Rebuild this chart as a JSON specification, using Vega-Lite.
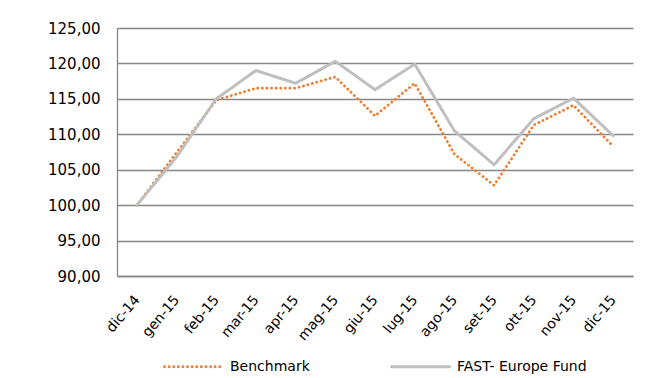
{
  "$schema": "https://vega.github.io/schema/vega-lite/v6.json",
  "width": 516,
  "height": 248,
  "autosize": {"type": "none"},
  "padding": {"left": 117, "top": 28, "right": 15, "bottom": 102},
  "background": "white",
  "data": {
    "values": [
      {"month": "dic-14", "series": "Benchmark", "value": 100.0},
      {"month": "gen-15", "series": "Benchmark", "value": 107.4},
      {"month": "feb-15", "series": "Benchmark", "value": 114.8},
      {"month": "mar-15", "series": "Benchmark", "value": 116.5},
      {"month": "apr-15", "series": "Benchmark", "value": 116.5},
      {"month": "mag-15", "series": "Benchmark", "value": 118.1},
      {"month": "giu-15", "series": "Benchmark", "value": 112.6},
      {"month": "lug-15", "series": "Benchmark", "value": 117.2},
      {"month": "ago-15", "series": "Benchmark", "value": 107.2},
      {"month": "set-15", "series": "Benchmark", "value": 102.8},
      {"month": "ott-15", "series": "Benchmark", "value": 111.3},
      {"month": "nov-15", "series": "Benchmark", "value": 114.1},
      {"month": "dic-15", "series": "Benchmark", "value": 108.3},
      {"month": "dic-14", "series": "FAST- Europe Fund", "value": 100.0},
      {"month": "gen-15", "series": "FAST- Europe Fund", "value": 106.8},
      {"month": "feb-15", "series": "FAST- Europe Fund", "value": 115.0},
      {"month": "mar-15", "series": "FAST- Europe Fund", "value": 119.0},
      {"month": "apr-15", "series": "FAST- Europe Fund", "value": 117.2},
      {"month": "mag-15", "series": "FAST- Europe Fund", "value": 120.3},
      {"month": "giu-15", "series": "FAST- Europe Fund", "value": 116.3},
      {"month": "lug-15", "series": "FAST- Europe Fund", "value": 119.9},
      {"month": "ago-15", "series": "FAST- Europe Fund", "value": 110.5},
      {"month": "set-15", "series": "FAST- Europe Fund", "value": 105.7},
      {"month": "ott-15", "series": "FAST- Europe Fund", "value": 112.2},
      {"month": "nov-15", "series": "FAST- Europe Fund", "value": 115.1},
      {"month": "dic-15", "series": "FAST- Europe Fund", "value": 109.8}
    ]
  },
  "mark": {"type": "line", "strokeCap": "round", "strokeJoin": "round"},
  "encoding": {
    "x": {
      "field": "month",
      "type": "ordinal",
      "sort": null,
      "scale": {"type": "point", "padding": 0.5},
      "axis": {
        "title": null,
        "grid": false,
        "ticks": false,
        "domain": true,
        "domainColor": "#868686",
        "domainWidth": 1.3,
        "labelAngle": -50,
        "labelAlign": "right",
        "labelBaseline": "middle",
        "labelPadding": 21,
        "labelFont": "DejaVu Sans",
        "labelFontSize": 14,
        "labelColor": "#000000"
      }
    },
    "y": {
      "field": "value",
      "type": "quantitative",
      "scale": {"domain": [90, 125], "nice": false, "zero": false},
      "axis": {
        "title": null,
        "values": [90, 95, 100, 105, 110, 115, 120, 125],
        "labelExpr": "replace(format(datum.value, '.2f'), '.', ',')",
        "grid": true,
        "gridColor": "#868686",
        "gridWidth": 1.3,
        "ticks": false,
        "domain": true,
        "domainColor": "#868686",
        "domainWidth": 1.3,
        "labelPadding": 17,
        "labelFont": "DejaVu Sans",
        "labelFontSize": 15,
        "labelColor": "#000000"
      }
    },
    "color": {
      "field": "series",
      "type": "nominal",
      "sort": ["Benchmark", "FAST- Europe Fund"],
      "scale": {"domain": ["Benchmark", "FAST- Europe Fund"], "range": ["#ED7D31", "#BFBFBF"]},
      "legend": {
        "title": null,
        "orient": "none",
        "direction": "horizontal",
        "legendX": 46,
        "legendY": 308,
        "symbolType": "stroke",
        "symbolSize": 3364,
        "symbolStrokeWidth": 2,
        "labelFont": "DejaVu Sans",
        "labelFontSize": 14,
        "labelColor": "#000000",
        "labelOffset": 6,
        "columnPadding": 75,
        "encode": {
          "symbols": {
            "update": {
              "strokeCap": {"value": "round"}
            }
          }
        }
      }
    },
    "strokeDash": {
      "field": "series",
      "type": "nominal",
      "sort": ["Benchmark", "FAST- Europe Fund"],
      "scale": {"domain": ["Benchmark", "FAST- Europe Fund"], "range": [[0.1, 4.5], [1, 0]]}
    },
    "strokeWidth": {
      "field": "series",
      "type": "nominal",
      "sort": ["Benchmark", "FAST- Europe Fund"],
      "scale": {"domain": ["Benchmark", "FAST- Europe Fund"], "range": [2.8, 3]},
      "legend": null
    }
  },
  "config": {"view": {"stroke": null}}
}
